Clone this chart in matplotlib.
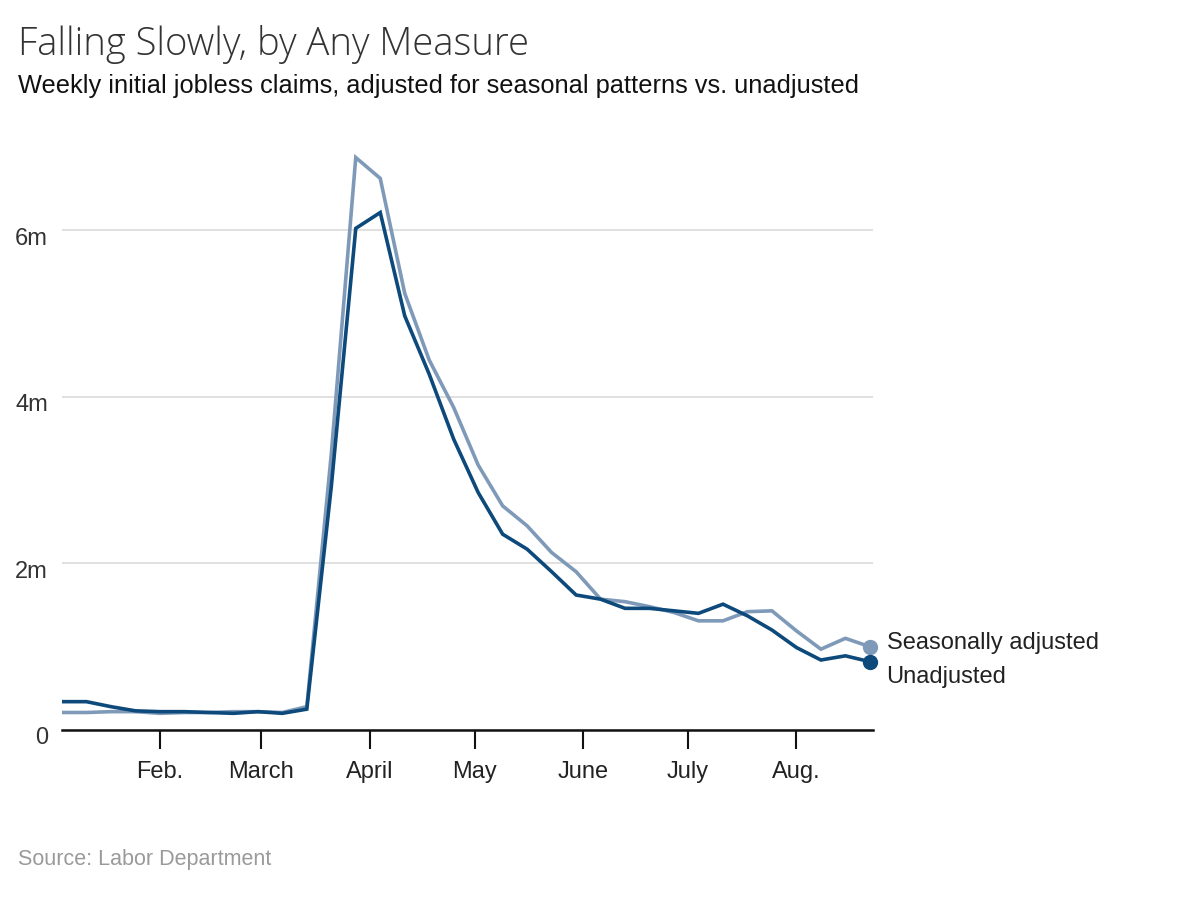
import pandas as pd
import matplotlib
matplotlib.use("Agg")
import matplotlib.pyplot as plt
import matplotlib.dates as mdates
from matplotlib.transforms import ScaledTranslation

# weekly initial jobless claims 2020, millions
weeks = pd.date_range("2020-01-04", "2020-08-22", freq="7D")
adjusted = [0.21, 0.21, 0.22, 0.22, 0.20, 0.21, 0.21, 0.22, 0.22, 0.21, 0.28,
            3.31, 6.87, 6.62, 5.24, 4.44, 3.87, 3.18, 2.69, 2.45, 2.13, 1.90,
            1.57, 1.54, 1.48, 1.41, 1.31, 1.31, 1.42, 1.43, 1.19, 0.97, 1.10, 1.00]
unadjusted = [0.34, 0.34, 0.28, 0.23, 0.22, 0.22, 0.21, 0.20, 0.22, 0.20, 0.25,
              2.92, 6.02, 6.21, 4.97, 4.27, 3.49, 2.85, 2.35, 2.17, 1.90, 1.62,
              1.57, 1.46, 1.46, 1.43, 1.40, 1.51, 1.37, 1.20, 0.99, 0.84, 0.89, 0.82]
month_ticks = ["2020-02-01", "2020-03-01", "2020-04-01", "2020-05-01",
               "2020-06-01", "2020-07-01", "2020-08-01"]
month_labels = ["Feb.", "March", "April", "May", "June", "July", "Aug."]
y_ticks = [0, 2, 4, 6]
y_labels = ["0", "2m", "4m", "6m"]

font = "Liberation Sans"
c_adj = "#7f9ab8"
c_unadj = "#0d4a7b"

fig = plt.figure(figsize=(12, 8.99), dpi=100)
ax = fig.add_axes([62/1200, 1 - 730/899, (873 - 62)/1200, (730 - 146.7)/899])

ax.plot(weeks, adjusted, color=c_adj, lw=2.6, solid_joinstyle="miter", zorder=3)
ax.plot(weeks, unadjusted, color=c_unadj, lw=2.6, solid_joinstyle="miter", zorder=4)
ax.scatter(weeks[-1:], adjusted[-1:], s=100, color=c_adj, zorder=5, clip_on=False)
ax.scatter(weeks[-1:], unadjusted[-1:], s=100, color=c_unadj, zorder=5, clip_on=False)

ax.set_xlim(weeks[0], weeks[-1] + pd.Timedelta(days=0.9))
ax.set_ylim(0, 7)

ax.set_yticks(y_ticks)
ax.set_yticklabels(y_labels, fontsize=17, color="#333333", family=font)
ax.tick_params(axis="y", length=0, pad=10)
# labels sit a little below their gridlines
for lab in ax.get_yticklabels():
    lab.set_transform(lab.get_transform() + ScaledTranslation(0, -0.06, fig.dpi_scale_trans))
ax.grid(axis="y", color="#dddddd", lw=1.3)
ax.set_axisbelow(True)

ax.set_xticks(mdates.datestr2num(month_ticks))
ax.set_xticklabels(month_labels, fontsize=17, color="#222222", family=font)
ax.tick_params(axis="x", length=14, width=1.5, color="#111111", pad=8)

for s in ["top", "right", "left"]:
    ax.spines[s].set_visible(False)
ax.spines["bottom"].set_linewidth(1.8)
ax.spines["bottom"].set_color("#111111")

# end labels
ax.annotate("Seasonally adjusted", (weeks[-1], adjusted[-1]), xytext=(12, 3),
            textcoords="offset points", fontsize=17, color="#222222", family=font,
            va="center", ha="left", annotation_clip=False)
ax.annotate("Unadjusted", (weeks[-1], unadjusted[-1]), xytext=(12, -11),
            textcoords="offset points", fontsize=17, color="#222222", family=font,
            va="center", ha="left", annotation_clip=False)

fig.text(18/1200, 1 - 55/899, "Falling Slowly, by Any Measure", fontsize=27.5,
         color="#333333", family="Open Sans", fontweight="light", va="baseline", ha="left")
fig.text(18/1200, 1 - 93/899,
         "Weekly initial jobless claims, adjusted for seasonal patterns vs. unadjusted",
         fontsize=18.3, color="#111111", family=font, va="baseline", ha="left")
fig.text(18/1200, 1 - 860/899, "Source: Labor Department", fontsize=15.5,
         color="#9a9a9a", family=font, va="center", ha="left")

fig.savefig("out.png", dpi=100)
